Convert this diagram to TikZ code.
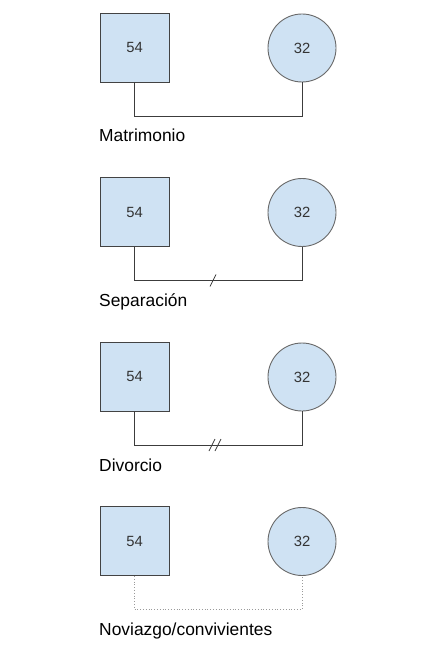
\documentclass[tikz,border=0pt]{standalone}
\usepackage{fontspec}
\setmainfont{Liberation Sans}
\definecolor{fillb}{HTML}{CFE2F3}
\definecolor{edge}{HTML}{434343}
\definecolor{lnk}{HTML}{3C3C3C}
\definecolor{dots}{HTML}{9A9A9A}
\begin{document}
\begin{tikzpicture}[x=1pt,y=-1pt,
  male/.style={draw=edge,fill=fillb,line width=0.9pt,minimum size=69pt,inner sep=0pt,
    font=\fontsize{14.8}{16}\selectfont,text=black!80},
  female/.style={circle,draw=edge!80,fill=fillb,line width=0.9pt,minimum size=68pt,inner sep=0pt,
    font=\fontsize{14.8}{16}\selectfont,text=black!80},
  link/.style={draw=lnk,line width=0.8pt},
  dotlink/.style={draw=dots,line width=0.8pt,dotted},
  lbl/.style={anchor=base west,inner sep=0pt,font=\fontsize{17.4}{20}\selectfont},
  tick/.style={draw=lnk,line width=0.8pt}]
\useasboundingbox (0,0) rectangle (440,652);
\foreach \k/\txt/\typ in {0/Matrimonio/1,1/Separación/2,2/Divorcio/3,3/Noviazgo\slash convivientes/4}{
  \pgfmathsetmacro{\oy}{164.5*\k}
  \begin{scope}[yshift=-\oy pt]
    \node[male] (m\k) at (134.5,47.5) {54};
    \node[female] (f\k) at (302,48) {32};
    \coordinate (a\k) at (134.5,116);
    \coordinate (b\k) at (302,116);
    \node[lbl] (l\k) at (99,142) {\txt};
    \ifnum\typ=4
      \draw[dotlink] (m\k.south) -- (a\k) -- (b\k) -- (f\k.south);
    \else
      \draw[link] (m\k.south) -- (a\k) -- (b\k) -- (f\k.south);
    \fi
    \ifnum\typ=2
      \draw[tick] (210,122) -- (216,110);
    \fi
    \ifnum\typ=3
      \draw[tick] (209,122) -- (215,110);
      \draw[tick] (215,122) -- (221,110);
    \fi
  \end{scope}
}
\end{tikzpicture}
\end{document}
